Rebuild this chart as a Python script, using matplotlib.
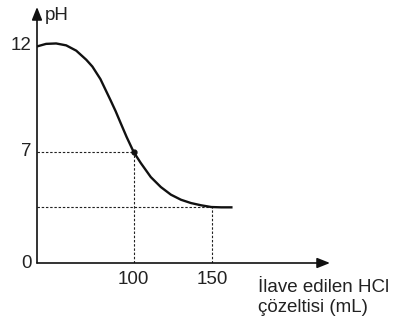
import numpy as np
import matplotlib
matplotlib.use("Agg")
import matplotlib.pyplot as plt

# data
vol = [0, 9.4, 19.8, 30.2, 40.6, 51.0, 57.3, 65.6, 76.0, 81.3, 86.5, 92.7, 100,
       104.5, 110.9, 117.3, 123.7, 130.1, 136.5, 142.9, 149.4, 155.8, 162.2]
ph = [11.98, 12.10, 12.12, 12.03, 11.78, 11.35, 11.03, 10.44, 9.45, 8.93, 8.37, 7.71, 7.0,
      6.31, 5.42, 4.79, 4.31, 3.99, 3.78, 3.64, 3.53, 3.51, 3.51]
x_ticks = [100, 150]
y_ticks = [0, 7, 12]
eq_point = (100, 7)
end_point = (150, 3.56)

plt.rcParams['font.family'] = ['Liberation Sans', 'DejaVu Sans']

# schematic (non-proportional) axes: piecewise-linear scales
xd = [-1000, 0, 100, 150, 1000]
xp = [37 - 960, 37, 133, 211, 211 + 850 * 1.56]
yd = [-100, 0, 7, 12, 100]
yp = [-1585.7, 0, 111, 217, 217 + 88 * 21.2]

def fx(v): return np.interp(v, xd, xp)
def ix(v): return np.interp(v, xp, xd)
def fy(v): return np.interp(v, yd, yp)
def iy(v): return np.interp(v, yp, yd)

fig = plt.figure(figsize=(3.99, 3.23), dpi=100)
ax = fig.add_axes([37 / 399, 60 / 323, 293 / 399, 256 / 323])
ax.set_xscale('function', functions=(fx, ix))
ax.set_yscale('function', functions=(fy, iy))
xmax = float(ix(328))
ymax = float(iy(256))
ax.set_xlim(0, xmax)
ax.set_ylim(0, ymax)
for s in ax.spines.values():
    s.set_visible(False)
ax.set_xticks([])
ax.set_yticks([])

dash = dict(color='#222222', lw=0.8, ls=(0, (2.2, 1.6)))
ax.plot([0, eq_point[0]], [eq_point[1]] * 2, **dash)
ax.plot([eq_point[0]] * 2, [0, eq_point[1]], **dash)
ax.plot([0, end_point[0]], [end_point[1]] * 2, **dash)
ax.plot([end_point[0]] * 2, [0, end_point[1]], **dash)

ax.plot(vol, ph, color='#111111', lw=1.7, solid_joinstyle='round')
ax.plot([eq_point[0]], [eq_point[1]], 'o', color='#111111', ms=3.5)

arr = dict(arrowstyle='-|>,head_length=0.55,head_width=0.22', lw=1.2, color='#111111',
           shrinkA=0, shrinkB=0, mutation_scale=14)
ax.annotate('', xy=(0, ymax), xytext=(0, 0), arrowprops=arr, annotation_clip=False)
ax.annotate('', xy=(xmax, 0), xytext=(0, 0), arrowprops=arr, annotation_clip=False)

tc = '#222222'
fs = 13.5
for t in y_ticks:
    ax.annotate(str(t), xy=(0, t), xytext=(-5, 0), textcoords='offset pixels',
                ha='right', va='center', fontsize=fs, color=tc, annotation_clip=False)
for t in x_ticks:
    ax.annotate(str(t), xy=(t, 0), xytext=(0, -16), textcoords='offset pixels',
                ha='center', va='center', fontsize=fs, color=tc, annotation_clip=False)

fig.text(45 / 399, 1 - 16 / 323, 'pH', ha='left', va='center', fontsize=fs, color=tc)
fig.text(258 / 399, 1 - 287 / 323, 'İlave edilen HCl', ha='left', va='center', fontsize=fs, color=tc)
fig.text(258 / 399, 1 - 308 / 323, 'çözeltisi (mL)', ha='left', va='center', fontsize=fs, color=tc)

fig.savefig('out.png', dpi=100)
